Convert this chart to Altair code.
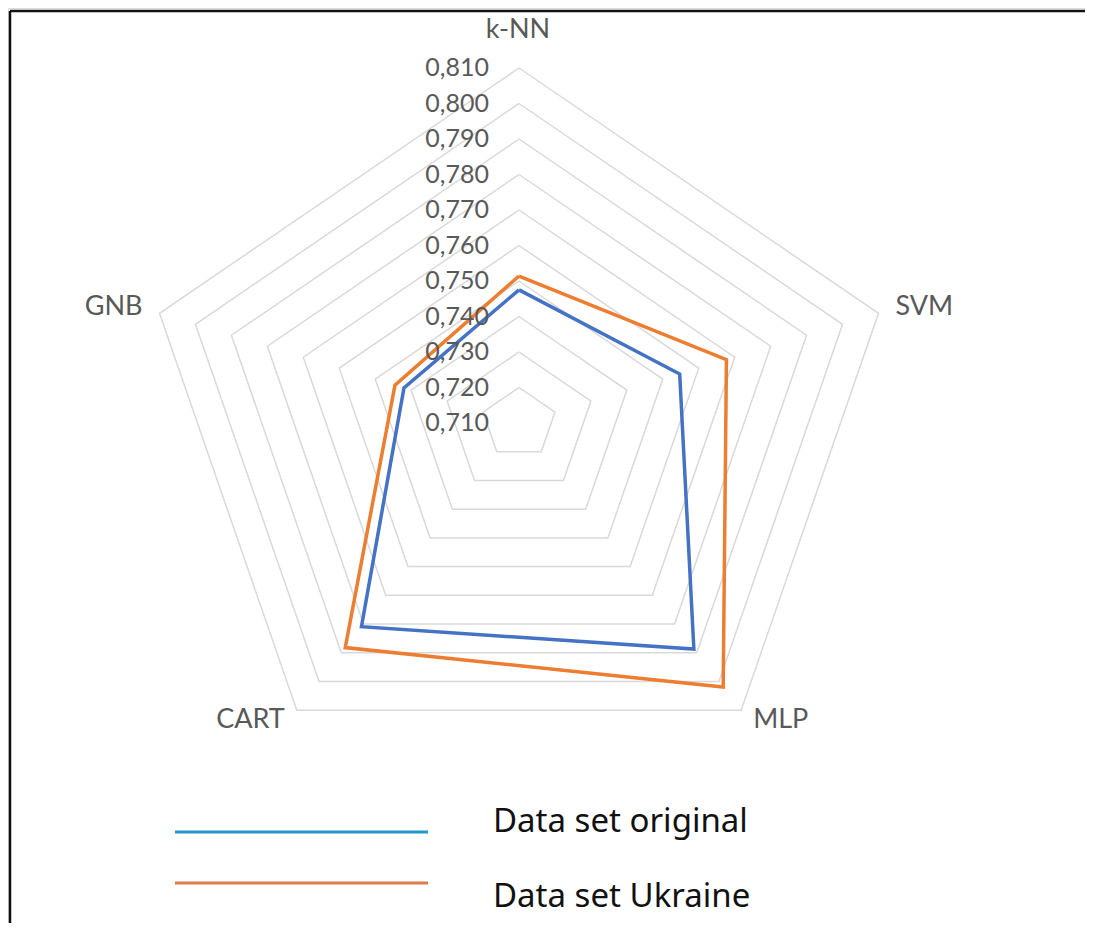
import altair as alt
import pandas as pd

# ---- data ----
categories = ["k-NN", "SVM", "MLP", "CART", "GNB"]
original = [0.7475, 0.7547, 0.7887, 0.7809, 0.7420]
ukraine = [0.7514, 0.7677, 0.8019, 0.7882, 0.7445]
series_names = ["Data set original", "Data set Ukraine"]
levels = [0.710, 0.720, 0.730, 0.740, 0.750, 0.760, 0.770, 0.780, 0.790, 0.800, 0.810]
tick_labels = ["0,710", "0,720", "0,730", "0,740", "0,750", "0,760",
               "0,770", "0,780", "0,790", "0,800", "0,810"]

R_MIN, R_MAX = levels[0], levels[-1]
N = len(categories)

# ---- layout ----
W, H = 1077, 915
CX, CY = 511, 415          # centre of the radar inside the plot area (px)
RX, RY = 378, 355          # outer radius, horizontal / vertical (px)

x_scale = alt.Scale(domain=[-CX / RX, (W - CX) / RX], nice=False, zero=False)
y_scale = alt.Scale(domain=[-(H - CY) / RY, CY / RY], nice=False, zero=False)
X = alt.X("px:Q", scale=x_scale, axis=None)
Y = alt.Y("py:Q", scale=y_scale, axis=None)


def polar(chart):
    return chart.transform_calculate(
        theta=f"datum.idx * 2 * PI / {N}",
        r=f"(datum.value - {R_MIN}) / ({R_MAX} - {R_MIN})",
    ).transform_calculate(
        px="datum.r * sin(datum.theta)",
        py="datum.r * cos(datum.theta)",
    )


# ---- tables built from the arrays ----
rows = []
for name, vals in zip(series_names, [original, ukraine]):
    for i in range(N + 1):
        rows.append({"series": name, "idx": i, "value": vals[i % N]})
series_df = pd.DataFrame(rows)

grid_rows = []
for lv in levels[1:]:
    for i in range(N + 1):
        grid_rows.append({"level": f"{lv:.3f}", "idx": i, "value": lv})
grid_df = pd.DataFrame(grid_rows)

cat_df = pd.DataFrame({"category": categories, "idx": list(range(N)), "value": [R_MAX] * N})
tick_df = pd.DataFrame({"label": tick_labels, "value": levels, "idx": [0] * len(levels)})
leg_df = pd.DataFrame({"series": series_names})

# ---- layers ----
grid = polar(alt.Chart(grid_df)).mark_line(color="#D9D9D9", strokeWidth=1.5).encode(
    x=X, y=Y, detail="level:N", order="idx:Q"
)

lines = polar(alt.Chart(series_df)).mark_line(strokeWidth=3.5, strokeJoin="miter").encode(
    x=X, y=Y, order="idx:Q",
    color=alt.Color("series:N",
                    scale=alt.Scale(domain=series_names, range=["#4472C4", "#ED7D31"]),
                    legend=None),
)

ticks = polar(alt.Chart(tick_df)).mark_text(
    align="right", baseline="middle", dx=-30, font="Lato", fontSize=25, color="#595959"
).encode(x=X, y=Y, text="label:N")

label_style = {
    "k-NN": dict(align="center", dx=-1, dy=-38),
    "SVM": dict(align="left", dx=17, dy=-6),
    "MLP": dict(align="left", dx=12, dy=10),
    "CART": dict(align="right", dx=-12, dy=10),
    "GNB": dict(align="right", dx=-17, dy=-6),
}
cat_layers = []
for c in categories:
    cat_layers.append(
        polar(alt.Chart(cat_df)).transform_filter(alt.datum.category == c).mark_text(
            baseline="middle", font="Lato", fontSize=27, color="#595959", **label_style[c]
        ).encode(x=X, y=Y, text="category:N")
    )

# frame (left and top edges)
frame_df = pd.DataFrame({"f": [0]})
frame_left = alt.Chart(frame_df).mark_rule(color="#111111", strokeWidth=2.5).encode(
    x=alt.value(2), y=alt.value(3), y2=alt.value(H)
)
frame_top = alt.Chart(frame_df).mark_rule(color="#111111", strokeWidth=2.5).encode(
    x=alt.value(2), x2=alt.value(W), y=alt.value(3)
)

# legend drawn below the radar
leg_colors = ["#2596CE", "#DE7A4E"]
leg_line_y = [824, 875]
leg_text_y = [814, 889]
leg_layers = []
for name, col, ly, ty in zip(series_names, leg_colors, leg_line_y, leg_text_y):
    base = alt.Chart(leg_df).transform_filter(alt.datum.series == name)
    leg_layers.append(
        base.mark_rule(color=col, strokeWidth=3).encode(
            x=alt.value(167), x2=alt.value(420), y=alt.value(ly)
        )
    )
    leg_layers.append(
        base.mark_text(align="left", baseline="middle", font="Noto Sans",
                       fontSize=33, color="#111111").encode(
            x=alt.value(485), y=alt.value(ty), text="series:N"
        )
    )

chart = alt.layer(
    frame_left, frame_top, grid, lines, ticks, *cat_layers, *leg_layers
).properties(
    width=W, height=H, padding=0,
    autosize=alt.AutoSizeParams(type="none"),
).configure_view(stroke=None).configure(background="white")

chart.save("out.html", embed_options={"renderer": "svg", "actions": False})
